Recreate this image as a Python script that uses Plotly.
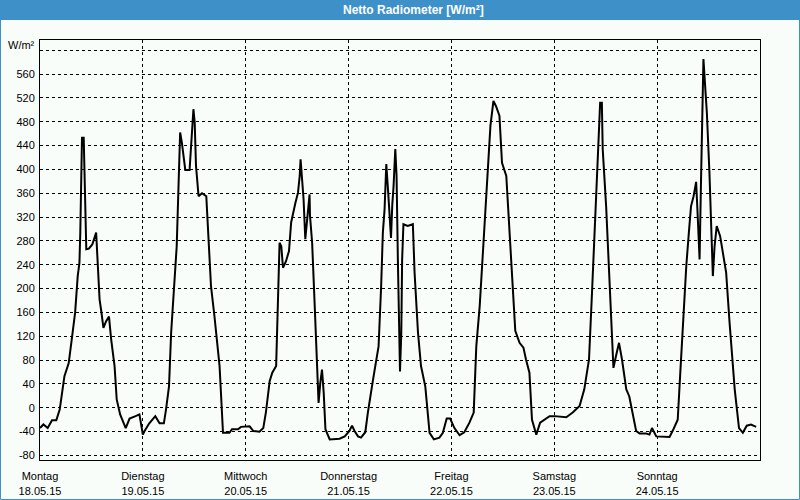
import plotly.graph_objects as go

# Hours since Monday 18.05.15 00:00
hours = [
    0, 0.8, 1.8, 2.8, 3.8, 4.6, 5.7, 6.7, 7.5, 8.2, 8.8, 9.2, 9.4, 9.6, 9.8, 10.2, 10.4, 10.8, 11.4, 12.2,
    13.1, 13.3, 13.9, 14.3, 14.8, 15.4, 16.1, 16.6, 17.4, 17.9, 18.7, 20.0, 20.9, 22.3, 23.2,
    24.0, 24.4, 25.5, 26.9, 27.9, 28.9, 29.4, 30.1, 30.6, 31.2, 31.5, 31.9, 32.3, 32.7, 33.1, 33.9, 34.9,
    35.4, 35.8, 36.1, 36.4, 37.0, 37.8, 38.8, 39.9, 40.7, 41.9, 42.7, 44.2, 44.8, 46.2, 46.9,
    48.9, 49.8, 51.2, 52.1, 52.7, 53.6, 54.2, 55.1, 55.5, 55.9, 56.3, 56.7, 57.4, 58.1, 58.6, 59.0, 59.6,
    60.2, 60.6, 60.8, 61.1, 61.5, 61.9, 62.3, 62.6, 62.9, 63.0, 63.5, 64.1, 64.6, 65.0, 65.4, 65.8, 66.2,
    66.6, 67.6, 69.0, 69.9, 71.1,
    72.2, 72.8, 73.4, 74.2, 74.9, 75.9, 76.5, 77.7, 79.0, 79.6, 80.0, 80.4, 80.8, 81.2, 81.5, 81.9, 82.2,
    82.5, 82.9, 83.2, 83.5, 83.7, 84.0, 84.3, 84.5, 84.8, 85.8, 87.0, 87.4, 88.2, 88.9, 89.9, 90.9, 91.9,
    93.2, 94.0, 94.9, 95.7,
    96.7, 97.9, 99.0, 100.2, 101.2, 101.8, 102.6, 103.3, 104.0, 104.5, 105.1, 105.8, 106.4, 107.2, 107.8,
    108.8, 109.6, 110.3, 110.9, 111.9, 112.8, 113.4, 114.2, 114.8, 115.8, 116.7, 117.7, 118.9,
    120.1, 121.2, 122.8, 124.3, 125.9, 127.0, 128.1, 128.8, 129.6, 130.2, 130.7, 131.1, 131.3, 132.1,
    132.9, 133.8, 134.4, 135.1, 135.8, 136.8, 137.5, 138.3, 139.1, 139.9, 141.4, 142.2, 142.8,
    143.8, 145.3, 146.9, 147.8, 148.8, 149.4, 150.0, 150.8, 151.4, 151.9, 152.5, 153.1, 153.5, 153.9,
    154.2, 154.5, 154.8, 155.1, 155.6, 156.2, 156.7, 157.0, 157.4, 157.9, 158.7, 160.1, 160.9, 162.1,
    163.1, 164.0, 164.9, 165.9, 167.1,
]

radiation = [
    -34, -28, -34, -21, -21, -3, 53, 75, 120, 160, 221, 243, 294, 350, 453, 453, 372, 266, 267, 274,
    294, 266, 182, 162, 134, 145, 153, 115, 70, 14, -11, -34, -18, -14, -11,
    -45, -39, -26, -14, -26, -26, -3, 36, 126, 199, 243, 271, 367, 462, 445, 399, 399,
    450, 501, 478, 406, 355, 360, 355, 204, 154, 70, -42, -42, -36, -36, -32,
    -31, -39, -40, -34, -8, 45, 59, 70, 171, 277, 271, 235, 246, 263, 311, 327, 344,
    361, 389, 417, 392, 350, 283, 311, 338, 358, 322, 277, 171, 81, 8, 42, 64, 25,
    -36, -53, -53, -52, -48,
    -39, -30, -39, -48, -50, -41, -8, 47, 103, 204, 294, 333, 409, 366, 333, 285, 341,
    372, 434, 389, 249, 154, 61, 126, 249, 308, 305, 308, 227, 126, 70, 36, -42, -53,
    -50, -42, -18, -18,
    -34, -46, -41, -25, -8, 103, 171, 255, 338, 400, 473, 515, 506, 490, 411,
    389, 294, 215, 129, 109, 101, 81, 59, -20, -45, -25, -20, -14,
    -14, -15, -16, -8, 3, 31, 81, 193, 338, 422, 512, 512, 434, 338,
    199, 67, 87, 109, 81, 31, 19, -8, -39, -43, -43, -45, -34,
    -48, -48, -49, -36, -20, 59, 143, 238, 294, 338, 355, 379, 316, 249,
    367, 478, 585, 551, 495, 395, 283, 221, 271, 305, 288, 227, 143, 31,
    -34, -42, -30, -28, -32,
]

day_names = ["Montag", "Dienstag", "Mittwoch", "Donnerstag", "Freitag", "Samstag", "Sonntag"]
day_dates = ["18.05.15", "19.05.15", "20.05.15", "21.05.15", "22.05.15", "23.05.15", "24.05.15"]
day_hours = [0, 24, 48, 72, 96, 120, 144]

y_ticks = [-80, -40, 0, 40, 80, 120, 160, 200, 240, 280, 320, 360, 400, 440, 480, 520, 560, 600]
y_labels = [str(v) for v in y_ticks[:-1]] + [""]

title_text = "Netto Radiometer [W/m²]"
unit_text = "W/m²"

BLUE = "#3D91C8"
BG = "#F9FDF9"
FONT = "Liberation Sans"

fig = go.Figure()
fig.add_trace(go.Scatter(
    x=hours, y=radiation, mode="lines",
    line=dict(color="black", width=2),
    hoverinfo="skip", showlegend=False,
))

fig.update_layout(
    width=800, height=500,
    margin=dict(l=40, r=40, t=40, b=40, autoexpand=False),
    paper_bgcolor=BG, plot_bgcolor=BG,
    font=dict(family=FONT, size=11, color="black"),
    showlegend=False,
    xaxis=dict(
        range=[0, 168], tickmode="array", tickvals=day_hours,
        ticktext=[f"{n}<br>{d}" for n, d in zip(day_names, day_dates)],
        showgrid=True, gridcolor="black", gridwidth=1, griddash="3px,3px",
        showline=True, linecolor="black", linewidth=1, mirror=True,
        zeroline=False, ticks="", ticklabelstandoff=6, automargin=False,
        tickfont=dict(family=FONT, size=11, color="black"),
    ),
    yaxis=dict(
        range=[-87.6, 617.1], tickmode="array", tickvals=y_ticks, ticktext=y_labels,
        showgrid=True, gridcolor="black", gridwidth=1, griddash="3px,3px",
        showline=True, linecolor="black", linewidth=1, mirror=True,
        zeroline=False, ticks="", ticklabelstandoff=2, automargin=False,
        tickfont=dict(family=FONT, size=11, color="black"),
    ),
    shapes=[
        dict(type="rect", xref="paper", yref="paper",
             x0=-40/720, x1=1+40/720, y0=440/420, y1=460/420,
             fillcolor=BLUE, line=dict(width=0), layer="above"),
        dict(type="rect", xref="paper", yref="paper",
             x0=-39.5/720, x1=1+39.5/720, y0=-39.5/420, y1=459.5/420,
             fillcolor="rgba(0,0,0,0)", line=dict(color=BLUE, width=1), layer="above"),
    ],
    annotations=[
        dict(text="<b>" + title_text + "</b>", xref="paper", yref="paper",
             x=(413-40)/720, y=(460-10)/420, xanchor="center", yanchor="middle",
             showarrow=False, font=dict(family=FONT, size=12, color="white")),
        dict(text=unit_text, xref="paper", yref="paper",
             x=(37-40)/720, y=(460-45)/420, xanchor="right", yanchor="middle",
             showarrow=False, font=dict(family=FONT, size=11, color="black")),
    ],
)

fig.write_html(
    "out.html",
    config={"displayModeBar": False, "staticPlot": True},
    post_script="document.body.style.margin='0';document.body.style.overflow='hidden';",
)
